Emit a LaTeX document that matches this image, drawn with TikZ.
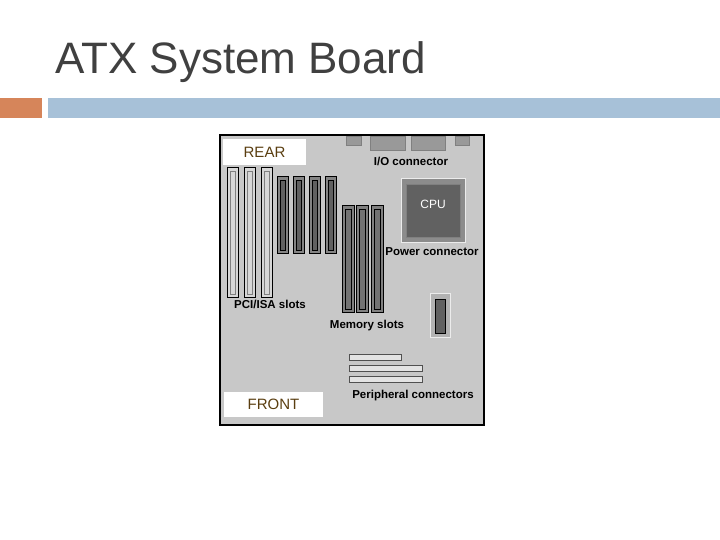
\documentclass[tikz,border=0pt]{standalone}
\usepackage{fontspec}
\setmainfont{Liberation Sans}
\usetikzlibrary{positioning, calc}
\definecolor{boardgrey}{RGB}{200,200,200}
\definecolor{slotdark}{RGB}{80,80,80}
\definecolor{slotlight}{RGB}{215,215,215}
\definecolor{titlegrey}{RGB}{64,64,64}
\definecolor{baror}{RGB}{214,133,90}
\definecolor{barbl}{RGB}{167,193,216}
\definecolor{tagbrown}{RGB}{90,62,16}

\begin{document}
\begin{tikzpicture}[x=1pt, y=-1pt]%{{{
        \useasboundingbox (0, 0) rectangle (720, 540);

        \tikzstyle{box} = [draw, line width=1pt];
        \tikzstyle{lbl} = [font=\fontsize{11.5}{12}\selectfont\bfseries, inner sep=0pt];
        \tikzstyle{tag} = [fill=white, text=tagbrown, font=\fontsize{15}{16}\selectfont, inner sep=0pt];

        % title and bars
        \node [anchor=base west, text=titlegrey, font=\fontsize{44}{48}\selectfont, inner sep=0pt] (T) at (55, 74) {ATX System Board};
        \fill [baror] (0, 98) rectangle (42, 118);
        \fill [barbl] (48, 98) rectangle (720, 118);

        % board
        \draw [fill=boardgrey, line width=2pt] (220, 135) rectangle (484, 425);

        \node [tag, minimum width=83, minimum height=26] (rear) at (264.5, 152) {REAR};
        \node [tag, minimum width=99, minimum height=25] (front) at (273.5, 404.5) {FRONT};

        % I/O connector
        \foreach \xa/\xb/\yb in {346/361/145, 370/405/150, 411/445/150, 455/469/145}{
            \draw [fill=gray!80, draw=gray] (\xa, 136) rectangle (\xb, \yb);
        }
        \node [lbl] (io) at (411, 161) {I/O connector};

        % PCI/ISA slots
        \foreach \xa in {227, 244, 261}{
            \draw [box, fill=slotlight] (\xa, 168) rectangle ++(11, 129);
            \draw [gray] (\xa+3, 171) rectangle ++(5, 123);
        }
        \foreach \xa in {277, 293, 309, 325}{
            \draw [box, fill=slotdark!70] (\xa, 177) rectangle ++(11, 76);
            \draw [fill=slotdark!90] (\xa+3, 180) rectangle ++(5, 70);
        }
        \node [lbl] (pci) at (270, 304) {PCI/ISA slots};

        % memory slots
        \foreach \xa in {342, 356, 371}{
            \draw [box, fill=gray] (\xa, 206) rectangle ++(12, 106);
            \draw [fill=slotdark!80] (\xa+3, 209) rectangle ++(6, 100);
        }
        \node [lbl] (mem) at (367, 326) {Memory slots};

        % CPU
        \draw [fill=gray!90, draw=white!85!gray, line width=1pt] (401, 179) rectangle (465, 242);
        \draw [fill=slotdark!90, draw=gray] (406, 184) rectangle (460, 237);
        \node [font=\fontsize{12}{13}\selectfont, text=white] (cpu) at (433, 204) {CPU};
        \node [lbl] (pow) at (432, 252) {Power connector};

        % power socket
        \draw [fill=gray!60, draw=white!85!gray, line width=1pt] (430, 293) rectangle (450, 337);
        \draw [fill=slotdark!90] (435, 299) rectangle (445, 333);

        % peripheral connectors
        \foreach \yb/\xb in {354/401, 365/422, 376/422}{
            \draw [fill=slotlight!70!white, draw=slotdark] (349, \yb) rectangle (\xb, \yb+6);
        }
        \node [lbl] (per) at (413, 396) {Peripheral connectors};
    \end{tikzpicture}
\end{document}
